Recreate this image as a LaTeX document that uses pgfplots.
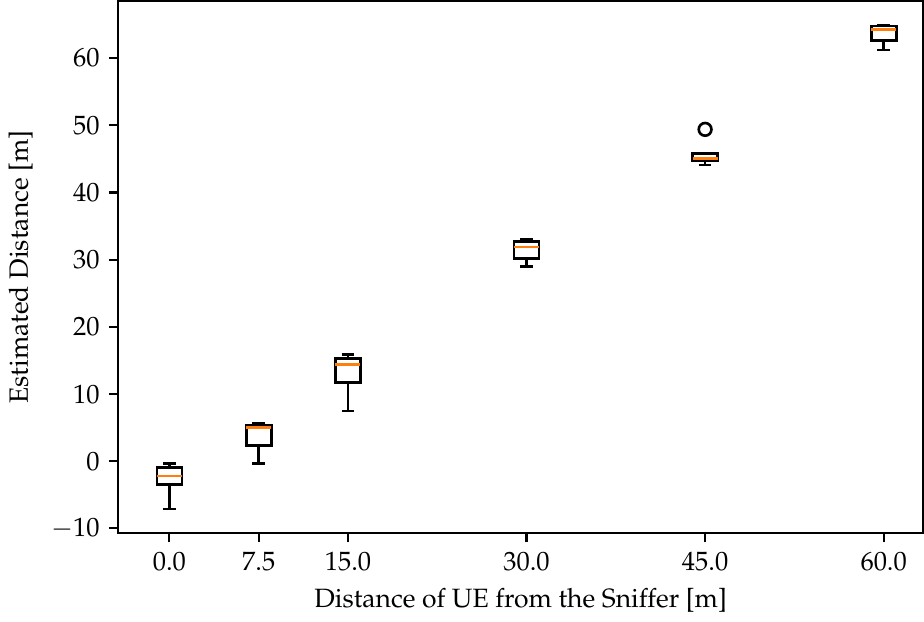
\documentclass[border=0pt]{standalone}
\usepackage[T1]{fontenc}
\usepackage{mathpazo}
\usepackage{pgfplots}
\pgfplotsset{compat=1.18}
\usepgfplotslibrary{statistics}
\definecolor{mplorange}{HTML}{FF7F0E}

\pgfplotsset{
  bx/.style={black, solid, line width=1pt, fill=none,
    mark=o, mark size=2.4pt, mark options={black, solid, line width=1pt, fill=none}},
}

\begin{document}
\begin{tikzpicture}
\begin{axis}[
  scale only axis,
  width=304pt, height=201pt,
  xmin=-4.3, xmax=63.3,
  ymin=-10.7, ymax=68.5,
  xtick={0,7.5,15,30,45,60},
  xticklabels={0.0,7.5,15.0,30.0,45.0,60.0},
  ytick={-10,0,10,20,30,40,50,60},
  tick align=outside, tick pos=left,
  major tick length=3.5pt,
  every tick/.style={black, line width=0.8pt},
  axis line style={line width=0.8pt},
  xlabel={Distance of UE from the Sniffer [m]},
  ylabel={Estimated Distance [m]},
  boxplot/draw direction=y,
  boxplot/box extend=2.1,
  boxplot/whisker extend=1.05,
  boxplot/every median/.style={draw=mplorange, line width=1pt},
]
\addplot[bx, boxplot prepared={draw position=0,
  lower whisker=-7.1, lower quartile=-3.5, median=-2.2,
  upper quartile=-0.9, upper whisker=-0.3}] coordinates {};
\addplot[bx, boxplot prepared={draw position=7.5,
  lower whisker=-0.3, lower quartile=2.3, median=5.0,
  upper quartile=5.3, upper whisker=5.6}] coordinates {};
\addplot[bx, boxplot prepared={draw position=15,
  lower whisker=7.5, lower quartile=11.7, median=14.4,
  upper quartile=15.3, upper whisker=15.9}] coordinates {};
\addplot[bx, boxplot prepared={draw position=30,
  lower whisker=29.0, lower quartile=30.2, median=31.9,
  upper quartile=32.7, upper whisker=33.0}] coordinates {};
\addplot[bx, boxplot prepared={draw position=45,
  lower whisker=44.1, lower quartile=44.7, median=45.1,
  upper quartile=45.8, upper whisker=45.9}] coordinates {(0,49.4)};
\addplot[bx, boxplot prepared={draw position=60,
  lower whisker=61.2, lower quartile=62.6, median=64.3,
  upper quartile=64.8, upper whisker=64.9}] coordinates {};
\end{axis}
\end{tikzpicture}
\end{document}
